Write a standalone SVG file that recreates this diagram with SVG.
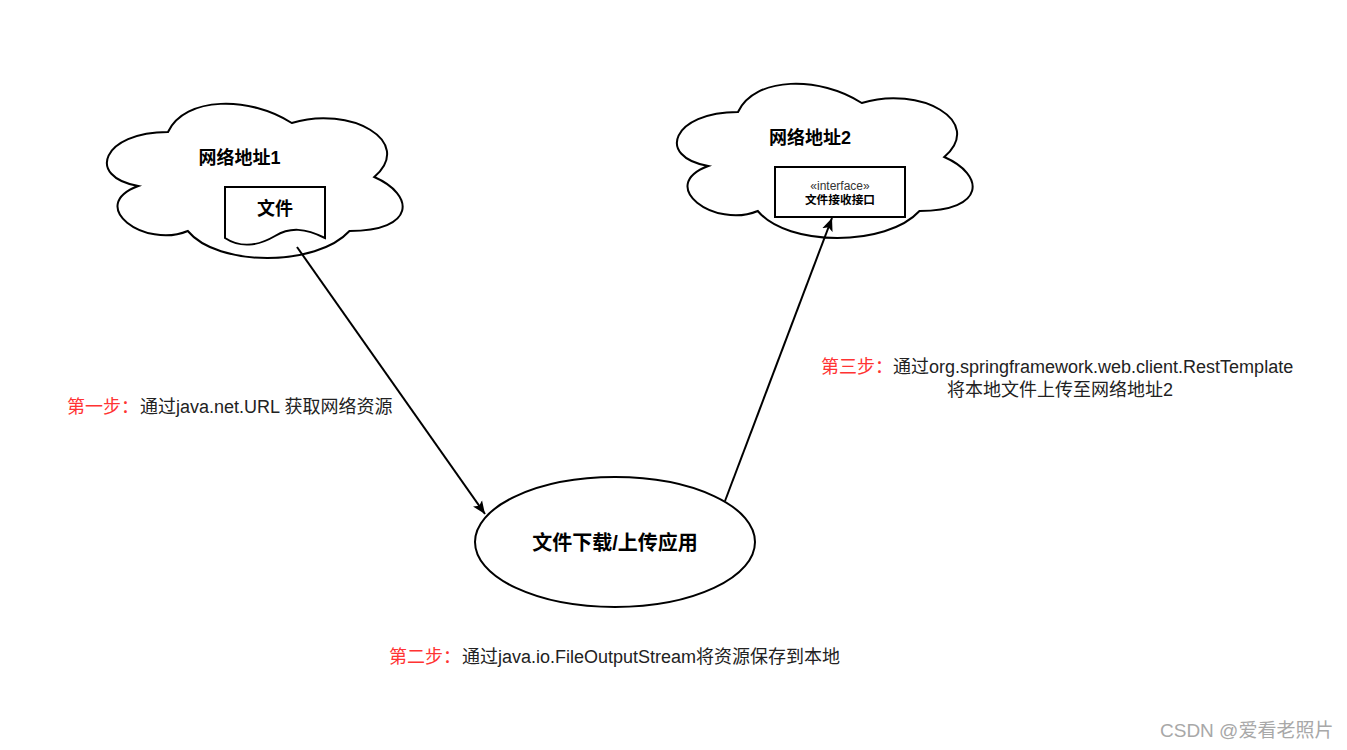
<svg xmlns="http://www.w3.org/2000/svg" width="1347" height="750" viewBox="0 0 1347 750">
<style>
text{font-family:"Liberation Sans","Noto Sans CJK SC",sans-serif;fill:#000}
.b{font-weight:bold}
.s{fill:#fff;stroke:#000;stroke-width:2}
.c{fill:none;stroke:#000;stroke-width:2}
.n{font-size:18px;fill:#222}
.r{font-size:18px;fill:#f33}
</style>
<defs>
<path id="cloud" d="M82.500 45C16.500 45 0 90 52.800 99C0 118.800 59.400 162 102.300 144C132 180 231 180 264 144C330 144 330 108 288.750 90C330 54 264 18 206.250 36C165 9 99 9 82.500 45Z"/>
<marker id="a" markerWidth="14" markerHeight="12" refX="13" refY="6" orient="auto" markerUnits="userSpaceOnUse"><path d="M0 0.500L13 6L0 11.500L3 6Z" fill="#000"/></marker>
</defs>
<rect width="1347" height="750" fill="#fff"/>
<g id="cloud1"><use href="#cloud" x="85.500" y="87" class="s"/><text x="239.500" y="164" text-anchor="middle" class="b" font-size="18">网络地址1</text></g>
<g id="file"><path class="s" d="M225 187H325V238C305 228 290 227 275 236C258 246 240 248 225 238Z"/><text x="275" y="215" text-anchor="middle" class="b" font-size="18">文件</text></g>
<g id="cloud2"><use href="#cloud" x="655.500" y="67" class="s"/><text x="810" y="144" text-anchor="middle" class="b" font-size="18">网络地址2</text></g>
<g id="interface"><rect class="s" x="775" y="167" width="130" height="50"/><text x="840" y="190" text-anchor="middle" font-size="12" style="fill:#333">«interface»</text><text x="840" y="204" text-anchor="middle" class="b" font-size="11.700">文件接收接口</text></g>
<g id="app"><ellipse class="s" cx="615" cy="542" rx="140" ry="65"/><text x="615" y="550" text-anchor="middle" class="b" font-size="20">文件下载/上传应用</text></g>
<g id="connectors"><path class="c" marker-end="url(#a)" d="M297 247L485 514"/><path class="c" marker-end="url(#a)" d="M725 501L832 218"/></g>
<g id="labels">
<text y="413"><tspan x="67" class="r">第一步：</tspan><tspan x="140" class="n">通过java.net.URL 获取网络资源</tspan></text>
<text y="373"><tspan x="821" class="r">第三步：</tspan><tspan x="893" class="n">通过org.springframework.web.client.RestTemplate</tspan></text>
<text x="947" y="396" class="n">将本地文件上传至网络地址2</text>
<text y="663"><tspan x="389" class="r">第二步：</tspan><tspan x="462" class="n">通过java.io.FileOutputStream将资源保存到本地</tspan></text>
<text x="1160" y="737" font-size="19" style="fill:#a8a8a8">CSDN @爱看老照片</text>
</g>
</svg>
